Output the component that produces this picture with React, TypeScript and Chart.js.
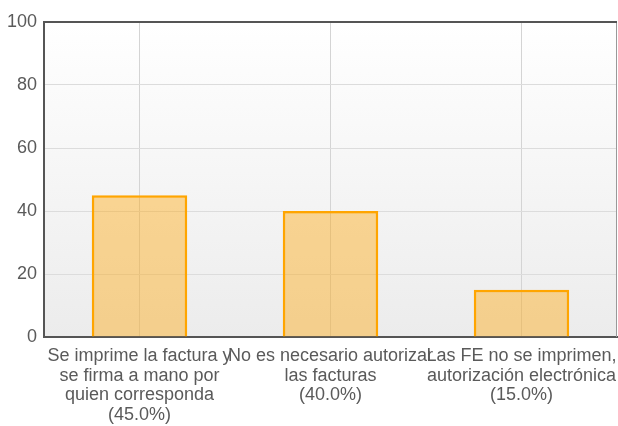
import React, { useEffect, useRef } from "react";
import { Chart, registerables } from "chart.js";

Chart.register(...registerables);

const categories: string[][] = [
  ["Se imprime la factura y", "se firma a mano por", "quien corresponda", "(45.0%)"],
  ["No es necesario autorizar", "las facturas", "(40.0%)"],
  ["Las FE no se imprimen,", "autorización electrónica", "(15.0%)"],
];
const values: number[] = [45, 40, 15];
const yTicks: number[] = [0, 20, 40, 60, 80, 100];

const bgPlugin = {
  id: "bgPlugin",
  beforeDraw(chart: any) {
    const { ctx, chartArea: a } = chart;
    const g = ctx.createLinearGradient(0, a.top, 0, a.bottom);
    g.addColorStop(0, "#ffffff");
    g.addColorStop(1, "#ececec");
    ctx.save();
    ctx.fillStyle = g;
    ctx.fillRect(a.left, a.top, a.right - a.left, a.bottom - a.top);
    ctx.restore();
  },
  afterDraw(chart: any) {
    const { ctx, chartArea: a } = chart;
    ctx.save();
    ctx.strokeStyle = "#999999";
    ctx.lineWidth = 1;
    ctx.beginPath();
    ctx.moveTo(a.right - 0.5, a.top);
    ctx.lineTo(a.right - 0.5, a.bottom);
    ctx.stroke();
    ctx.strokeStyle = "#555555";
    ctx.lineWidth = 2;
    ctx.beginPath();
    ctx.moveTo(a.left - 1, a.top);
    ctx.lineTo(a.right, a.top);
    ctx.stroke();
    ctx.restore();
  },
};

export default function App() {
  const ref = useRef<HTMLCanvasElement>(null);
  useEffect(() => {
    document.body.style.margin = "0";
    const chart = new Chart(ref.current!, {
      type: "bar",
      data: {
        labels: categories,
        datasets: [
          {
            data: values,
            backgroundColor: "rgba(255,168,10,0.42)",
            borderColor: "#ffa500",
            borderWidth: 2.5,
            barPercentage: 0.5,
            categoryPercentage: 1,
            borderSkipped: "bottom",
          },
        ],
      },
      options: {
        animation: false,
        responsive: false,
        maintainAspectRatio: false,
        layout: { padding: { top: 22, right: 1, left: 0, bottom: 0 } },
        plugins: { legend: { display: false }, tooltip: { enabled: false } },
        scales: {
          x: {
            grid: { offset: false, color: "#d4d4d4", drawTicks: false },
            border: { color: "#555555", width: 2 },
            ticks: {
              color: "#5a5a5a",
              font: { family: "'Liberation Sans', Arial", size: 18, lineHeight: 1.1 },
              padding: 9,
              maxRotation: 0,
              autoSkip: false,
            },
            afterFit(scale: any) {
              scale.height = 89;
              scale.paddingLeft = 0;
              scale.paddingRight = 0;
            },
          },
          y: {
            min: 0,
            max: 100,
            afterBuildTicks(scale: any) {
              scale.ticks = yTicks.map((v) => ({ value: v }));
            },
            grid: { color: "#dcdcdc", drawTicks: false },
            border: { color: "#555555", width: 2 },
            ticks: {
              color: "#5a5a5a",
              font: { family: "'Liberation Sans', Arial", size: 18 },
              padding: 7,
            },
            afterFit(scale: any) {
              scale.width = 44;
              scale.paddingTop = 0;
              scale.paddingBottom = 0;
            },
          },
        },
      },
      plugins: [bgPlugin],
    });
    return () => chart.destroy();
  }, []);
  return (
    <div style={{ position: "absolute", left: 0, top: 0, width: 618, height: 426 }}>
      <canvas ref={ref} width={618} height={426} />
    </div>
  );
}
